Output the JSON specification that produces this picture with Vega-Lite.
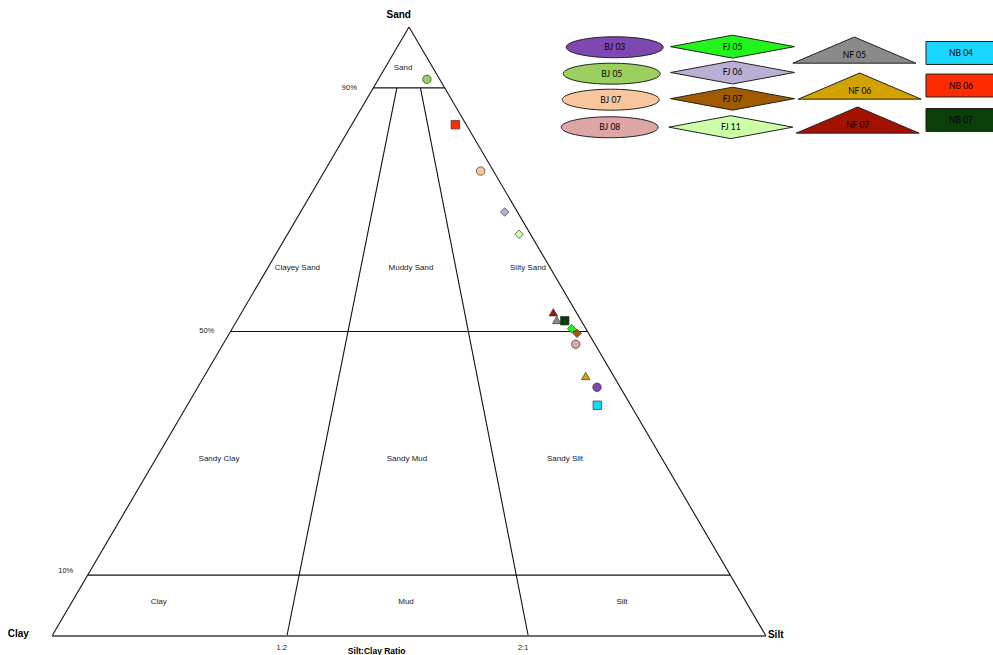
{
  "$schema": "https://vega.github.io/schema/vega-lite/v6.json",
  "width": 993,
  "height": 655,
  "padding": 0,
  "autosize": {"type": "none"},
  "background": "white",
  "config": {"view": {"stroke": null}},
  "datasets": {
    "lines": [
      {"x": 0, "y": 0, "x2": 50, "y2": 100},
      {"x": 100, "y": 0, "x2": 50, "y2": 100},
      {"x": 45, "y": 90, "x2": 55, "y2": 90},
      {"x": 25, "y": 50, "x2": 75, "y2": 50},
      {"x": 5, "y": 10, "x2": 95, "y2": 10},
      {"x": 32.9, "y": 0, "x2": 48.3, "y2": 90},
      {"x": 66.7, "y": 0, "x2": 51.6, "y2": 90}
    ],
    "base": [
      {"x": 0, "y": 0, "x2": 100, "y2": 0}
    ],
    "labels": [
      {"kind": "region", "text": "Sand", "x": 49.16, "y": 93.27},
      {"kind": "region", "text": "Clayey Sand", "x": 34.36, "y": 60.43},
      {"kind": "region", "text": "Muddy Sand", "x": 50.28, "y": 60.43},
      {"kind": "region", "text": "Silty Sand", "x": 66.67, "y": 60.43},
      {"kind": "region", "text": "Sandy Clay", "x": 23.39, "y": 29.08},
      {"kind": "region", "text": "Sandy Mud", "x": 49.72, "y": 29.08},
      {"kind": "region", "text": "Sandy Silt", "x": 71.85, "y": 29.08},
      {"kind": "region", "text": "Clay", "x": 14.95, "y": 5.58},
      {"kind": "region", "text": "Mud", "x": 49.58, "y": 5.58},
      {"kind": "region", "text": "Silt", "x": 79.83, "y": 5.58},
      {"kind": "pct", "text": "90%", "x": 41.64, "y": 90.03},
      {"kind": "pct", "text": "50%", "x": 21.67, "y": 50.08},
      {"kind": "pct", "text": "10%", "x": 1.92, "y": 10.72},
      {"kind": "pct", "text": "1:2", "x": 32.17, "y": -1.92},
      {"kind": "pct", "text": "2:1", "x": 66.01, "y": -1.92},
      {"kind": "vertex", "text": "Sand", "x": 48.56, "y": 101.97},
      {"kind": "vertex", "text": "Clay", "x": -4.72, "y": 0.33},
      {"kind": "vertex", "text": "Silt", "x": 101.36, "y": 0.16},
      {"kind": "title", "text": "Silt:Clay Ratio", "x": 45.47, "y": -2.41}
    ],
    "points": [
      {"site": "BJ 05", "group": "BJ", "x": 52.5, "y": 91.4},
      {"site": "NB 06", "group": "NB", "x": 56.49, "y": 83.96},
      {"site": "BJ 07", "group": "BJ", "x": 60.04, "y": 76.35},
      {"site": "FJ 06", "group": "FJ", "x": 63.4, "y": 69.62},
      {"site": "FJ 11", "group": "FJ", "x": 65.41, "y": 65.96},
      {"site": "NF 07", "group": "NF", "x": 70.21, "y": 53.15},
      {"site": "NF 05", "group": "NF", "x": 70.69, "y": 51.89},
      {"site": "NB 07", "group": "NB", "x": 71.81, "y": 51.77},
      {"site": "FJ 05", "group": "FJ", "x": 72.79, "y": 50.46},
      {"site": "FJ 07", "group": "FJ", "x": 73.53, "y": 49.7},
      {"site": "BJ 08", "group": "BJ", "x": 73.35, "y": 47.9},
      {"site": "NF 06", "group": "NF", "x": 74.75, "y": 42.69},
      {"site": "BJ 03", "group": "BJ", "x": 76.33, "y": 40.84},
      {"site": "NB 04", "group": "NB", "x": 76.37, "y": 37.88}
    ],
    "legend": [
      {"site": "BJ 03", "label": "BJ 03", "group": "BJ", "x": 78.81, "y": 96.67},
      {"site": "BJ 05", "label": "BJ 05", "group": "BJ", "x": 78.39, "y": 92.33},
      {"site": "BJ 07", "label": "BJ 07", "group": "BJ", "x": 78.25, "y": 88.06},
      {"site": "BJ 08", "label": "BJ 08", "group": "BJ", "x": 78.11, "y": 83.53},
      {"site": "FJ 05", "label": "FJ  05", "group": "FJ", "x": 95.31, "y": 96.77},
      {"site": "FJ 06", "label": "FJ  06", "group": "FJ", "x": 95.31, "y": 92.53},
      {"site": "FJ 07", "label": "FJ  07", "group": "FJ", "x": 95.31, "y": 88.23},
      {"site": "FJ 11", "label": "FJ  11", "group": "FJ", "x": 95.07, "y": 83.55},
      {"site": "NF 05", "label": "NF 05", "group": "NF", "x": 112.37, "y": 95.4},
      {"site": "NF 06", "label": "NF 06", "group": "NF", "x": 113.12, "y": 89.49},
      {"site": "NF 07", "label": "NF 07", "group": "NF", "x": 112.84, "y": 83.91},
      {"site": "NB 04", "label": "NB 04", "group": "NB", "x": 127.31, "y": 95.73},
      {"site": "NB 06", "label": "NB 06", "group": "NB", "x": 127.31, "y": 90.39},
      {"site": "NB 07", "label": "NB 07", "group": "NB", "x": 127.31, "y": 84.73}
    ]
  },
  "encoding": {
    "x": {"field": "x", "type": "quantitative", "axis": null, "scale": {"domain": [-7.283, 131.79], "nice": false, "zero": false}},
    "y": {"field": "y", "type": "quantitative", "axis": null, "scale": {"domain": [-3.12, 104.43], "nice": false, "zero": false}}
  },
  "layer": [
    {
      "data": {"name": "lines"},
      "mark": {"type": "rule", "color": "#111111", "strokeWidth": 1.1},
      "encoding": {"x2": {"field": "x2"}, "y2": {"field": "y2"}}
    },
    {
      "data": {"name": "base"},
      "mark": {"type": "rule", "color": "#6e6e6e", "strokeWidth": 2},
      "encoding": {"x2": {"field": "x2"}, "y2": {"field": "y2"}}
    },
    {
      "data": {"name": "labels"},
      "transform": [{"filter": "datum.kind === 'region'"}],
      "mark": {"type": "text", "font": "Liberation Sans", "fontSize": 8, "color": "#1a1a1a", "align": "center", "baseline": "middle"},
      "encoding": {"text": {"field": "text"}}
    },
    {
      "data": {"name": "labels"},
      "transform": [{"filter": "datum.kind === 'pct'"}],
      "mark": {"type": "text", "font": "Liberation Sans", "fontSize": 7.5, "color": "#1a1a1a", "align": "center", "baseline": "middle"},
      "encoding": {"text": {"field": "text"}}
    },
    {
      "data": {"name": "labels"},
      "transform": [{"filter": "datum.kind === 'vertex'"}],
      "mark": {"type": "text", "font": "Liberation Sans", "fontSize": 10, "fontWeight": "bold", "color": "#000000", "align": "center", "baseline": "middle"},
      "encoding": {"text": {"field": "text"}}
    },
    {
      "data": {"name": "labels"},
      "transform": [{"filter": "datum.kind === 'title'"}],
      "mark": {"type": "text", "font": "Liberation Sans", "fontSize": 8.5, "fontWeight": "bold", "color": "#000000", "align": "center", "baseline": "middle"},
      "encoding": {"text": {"field": "text"}}
    },
    {
      "data": {"name": "points"},
      "mark": {"type": "point", "filled": true, "opacity": 1, "stroke": "#333333", "strokeWidth": 0.7, "size": 72},
      "encoding": {
        "shape": {"field": "group", "type": "nominal", "legend": null, "scale": {"domain": ["BJ", "FJ", "NF", "NB"], "range": ["circle", "diamond", "triangle-up", "square"]}},
        "color": {"field": "site", "type": "nominal", "legend": null, "scale": {
          "domain": ["BJ 03", "BJ 05", "BJ 07", "BJ 08", "FJ 05", "FJ 06", "FJ 07", "FJ 11", "NF 05", "NF 06", "NF 07", "NB 04", "NB 06", "NB 07"],
          "range": ["#7e48b0", "#9bcf5f", "#f9c79d", "#dfa6a6", "#22f51a", "#b9b0d3", "#a05a00", "#ccffa8", "#8a8a8a", "#d2a300", "#a31200", "#1ad6ff", "#ff2a00", "#0a3f0a"]}}
      }
    },
    {
      "data": {"name": "legend"},
      "transform": [{"filter": "datum.group === 'BJ'"}],
      "mark": {"type": "point", "filled": true, "opacity": 1, "stroke": "#222222", "strokeWidth": 1, "size": 15376,
        "shape": "M -0.782 0 A 0.782 0.169 0 1 0 0.782 0 A 0.782 0.169 0 1 0 -0.782 0 Z"},
      "encoding": {"color": {"field": "site", "type": "nominal", "legend": null}}
    },
    {
      "data": {"name": "legend"},
      "transform": [{"filter": "datum.group === 'FJ'"}],
      "mark": {"type": "point", "filled": true, "opacity": 1, "stroke": "#222222", "strokeWidth": 1, "size": 15376,
        "shape": "M -1 0 L 0 -0.185 L 1 0 L 0 0.185 Z"},
      "encoding": {"color": {"field": "site", "type": "nominal", "legend": null}}
    },
    {
      "data": {"name": "legend"},
      "transform": [{"filter": "datum.group === 'NF'"}],
      "mark": {"type": "point", "filled": true, "opacity": 1, "stroke": "#222222", "strokeWidth": 1, "size": 15376,
        "shape": "M 0 -0.29 L 0.992 0.132 L -0.992 0.132 Z"},
      "encoding": {"color": {"field": "site", "type": "nominal", "legend": null}}
    },
    {
      "data": {"name": "legend"},
      "transform": [{"filter": "datum.group === 'NB'"}],
      "mark": {"type": "point", "filled": true, "opacity": 1, "stroke": "#222222", "strokeWidth": 1, "size": 15376,
        "shape": "M -0.565 -0.185 L 0.565 -0.185 L 0.565 0.185 L -0.565 0.185 Z"},
      "encoding": {"color": {"field": "site", "type": "nominal", "legend": null}}
    },
    {
      "data": {"name": "legend"},
      "mark": {"type": "text", "font": "Lato", "fontSize": 8.5, "color": "#000000", "align": "center", "baseline": "middle"},
      "encoding": {"text": {"field": "label"}}
    }
  ]
}
